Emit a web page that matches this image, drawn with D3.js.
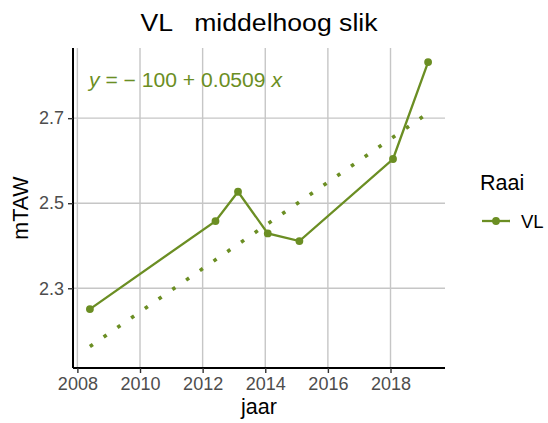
<!DOCTYPE html>
<html>
<head>
<meta charset="utf-8">
<script src="https://cdn.jsdelivr.net/npm/d3@7"></script>
<style>
  body { margin: 0; background: #fff; }
  text { font-family: "Liberation Sans", Arial, sans-serif; }
</style>
</head>
<body>
<div id="chart"></div>
<script>
// values
const years   = [2008.40, 2012.41, 2013.13, 2014.08, 2015.09, 2018.08, 2019.20];
const heights = [2.251, 2.458, 2.527, 2.429, 2.411, 2.604, 2.832];
const trendYears   = [2008.40, 2019.20];
const trendHeights = [2.163, 2.712];
const xTicks = [2008, 2010, 2012, 2014, 2016, 2018];
const yTicks = [2.3, 2.5, 2.7];
const seriesName = "VL";

const width = 548, height = 423;
const margin = {top: 48, right: 103, bottom: 55, left: 73};
const color = "#6b8e23";

let svg = d3.select("#chart").append("svg")
    .attr("width", width)
    .attr("height", height);

let x = d3.scaleLinear()
    .domain([2007.86, 2019.74])
    .range([margin.left, width - margin.right]);
let y = d3.scaleLinear()
    .domain([2.1125, 2.865])
    .range([height - margin.bottom, margin.top]);

// grid
svg.append("g").selectAll("line")
    .data(xTicks)
    .enter().append("line")
    .attr("x1", d => x(d)).attr("x2", d => x(d))
    .attr("y1", margin.top).attr("y2", height - margin.bottom)
    .attr("stroke", "#c6c6c6").attr("stroke-width", 1.4);
svg.append("g").selectAll("line")
    .data(yTicks)
    .enter().append("line")
    .attr("x1", margin.left).attr("x2", width - margin.right)
    .attr("y1", d => y(d)).attr("y2", d => y(d))
    .attr("stroke", "#c6c6c6").attr("stroke-width", 1.4);

// axes
let xAxis = svg.append("g")
    .attr("transform", `translate(0,${height - margin.bottom})`)
    .call(d3.axisBottom(x).tickValues(xTicks).tickFormat(d3.format("d")).tickSize(5).tickPadding(4));
let yAxis = svg.append("g")
    .attr("transform", `translate(${margin.left},0)`)
    .call(d3.axisLeft(y).tickValues(yTicks).tickFormat(d3.format(".1f")).tickSize(5).tickPadding(4));
[xAxis, yAxis].forEach(g => {
    g.select(".domain").attr("stroke", "#000").attr("stroke-width", 2);
    g.selectAll(".tick line").attr("stroke", "#333").attr("stroke-width", 1.4);
    g.selectAll(".tick text")
        .attr("fill", "#4d4d4d")
        .style("font-size", "18px")
        .style("font-family", '"Liberation Sans", Arial, sans-serif');
});
xAxis.select(".domain").attr("d", `M${margin.left},0H${width - margin.right}`);
yAxis.select(".domain").attr("d", `M0,${margin.top}V${height - margin.bottom}`);

// trend line (dotted)
let trend = trendYears.map((d, i) => [d, trendHeights[i]]);
svg.append("path")
    .datum(trend)
    .attr("d", d3.line().x(d => x(d[0])).y(d => y(d[1])))
    .attr("fill", "none")
    .attr("stroke", color)
    .attr("stroke-width", 3.6)
    .attr("stroke-dasharray", "3.6,13.1");

// observed series
let pts = years.map((d, i) => [d, heights[i]]);
svg.append("path")
    .datum(pts)
    .attr("d", d3.line().x(d => x(d[0])).y(d => y(d[1])))
    .attr("fill", "none")
    .attr("stroke", color)
    .attr("stroke-width", 2.3);
svg.append("g").selectAll("circle")
    .data(pts)
    .enter().append("circle")
    .attr("cx", d => x(d[0]))
    .attr("cy", d => y(d[1]))
    .attr("r", 3.9)
    .attr("fill", color);

// equation
let eq = svg.append("text")
    .attr("x", 89).attr("y", 87)
    .attr("fill", color)
    .attr("textLength", 193)
    .attr("lengthAdjust", "spacingAndGlyphs")
    .style("font-size", "19.5px")
    .style("white-space", "pre");
eq.append("tspan").style("font-style", "italic").text("y");
eq.append("tspan").text(" = \u2212 100 + 0.0509 ");
eq.append("tspan").style("font-style", "italic").text("x");

// title
svg.append("text")
    .attr("x", (margin.left + width - margin.right) / 2)
    .attr("y", 31)
    .attr("text-anchor", "middle")
    .attr("textLength", 237)
    .attr("lengthAdjust", "spacingAndGlyphs")
    .style("font-size", "23px")
    .style("white-space", "pre")
    .text("VL   middelhoog slik");

// axis titles
svg.append("text")
    .attr("x", (margin.left + width - margin.right) / 2)
    .attr("y", 414)
    .attr("text-anchor", "middle")
    .style("font-size", "21.5px")
    .text("jaar");
svg.append("text")
    .attr("transform", `translate(28,${(margin.top + height - margin.bottom) / 2}) rotate(-90)`)
    .attr("text-anchor", "middle")
    .style("font-size", "21.5px")
    .text("mTAW");

// legend
let legend = svg.append("g").attr("transform", "translate(480,0)");
legend.append("text")
    .attr("x", 0).attr("y", 190)
    .style("font-size", "21.5px")
    .text("Raai");
legend.append("line")
    .attr("x1", 2).attr("x2", 30)
    .attr("y1", 221).attr("y2", 221)
    .attr("stroke", color).attr("stroke-width", 2.3);
legend.append("circle")
    .attr("cx", 16).attr("cy", 221).attr("r", 3.9)
    .attr("fill", color);
legend.append("text")
    .attr("x", 41).attr("y", 227.5)
    .style("font-size", "18.5px")
    .text(seriesName);
</script>
</body>
</html>
